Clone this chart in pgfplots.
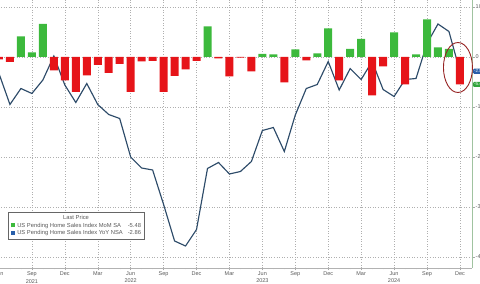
\documentclass[border=0pt]{standalone}
\usepackage{pgfplots}
\pgfplotsset{compat=1.18}
\usepackage{fontspec}
\setmainfont{Liberation Sans}
\definecolor{barg}{RGB}{60,185,60}
\definecolor{barr}{RGB}{230,20,25}
\definecolor{yoy}{RGB}{45,75,105}
\definecolor{gridc}{RGB}{175,175,175}
\definecolor{txt}{RGB}{90,90,90}
\definecolor{tagb}{RGB}{40,95,170}
\definecolor{tagg}{RGB}{50,165,60}
\definecolor{ell}{RGB}{150,35,35}
\definecolor{raxis}{RGB}{160,195,160}
\begin{document}
\begin{tikzpicture}[x=1pt,y=1pt]
\useasboundingbox (12,-16) rectangle (492,268);
\begin{axis}[
  at={(0,0)}, anchor=south west,
  scale only axis, width=484pt, height=268pt,
  xmin=-1, xmax=43.1, ymin=-42.2, ymax=11.4,
  axis x line*=bottom, axis y line*=right,
  x axis line style={draw=gray!60, line width=0.5pt},
  y axis line style={draw=raxis, line width=0.6pt},
  xtick={0,3,...,42},
  xticklabels={Jun,{Sep\\2021},Dec,Mar,{Jun\\2022},Sep,Dec,Mar,{Jun\\2023},Sep,Dec,Mar,{Jun\\2024},Sep,Dec},
  xticklabel style={align=center, font=\fontsize{5.5}{7.5}\selectfont, text=txt, inner sep=1pt},
  minor x tick num=2,
  ytick={-40,-30,...,10},
  yticklabel style={font=\fontsize{5.5}{6.5}\selectfont, text=txt, inner sep=1pt},
  tick align=outside, major tick length=2.5pt, minor tick length=1.5pt,
  tick style={draw=gray!70, line width=0.4pt},
  grid=major,
  major grid style={draw=gridc, line width=0.5pt, dash pattern=on 0.8pt off 1.8pt},
  /pgf/number format/assume math mode=true,
  clip=false,
]
% YoY NSA line
\addplot[yoy, line width=1.15pt, mark=none] coordinates {
(0,-3.3) (1,-9.5) (2,-6.3) (3,-7.3) (4,-4.6) (5,0.2) (6,-5.6) (7,-9.1) (8,-5.3) (9,-9.5)
(10,-11.5) (11,-12.3) (12,-20.0) (13,-22.2) (14,-22.6) (15,-29.5) (16,-36.8) (17,-37.8) (18,-34.5) (19,-22.3)
(20,-21.1) (21,-23.4) (22,-22.9) (23,-20.9) (24,-14.7) (25,-14.1) (26,-18.9) (27,-11.6) (28,-6.3) (29,-5.5)
(30,-0.9) (31,-6.6) (32,-2.3) (33,-4.5) (34,-0.9) (35,-6.5) (36,-7.9) (37,-4.5) (38,-4.3) (39,2.7)
(40,6.6) (41,5.1) (42,-2.86)
};
% MoM SA bars: positive (green)
\addplot[ybar, bar width=8pt, bar shift=0pt, fill=barg, draw=none] coordinates {
(2,4.1) (3,0.9) (4,6.6) (19,6.1) (24,0.6) (25,0.5) (27,1.5) (29,0.7) (30,5.7) (32,1.6)
(33,3.6) (36,4.9) (38,0.5) (39,7.5) (40,1.9) (41,1.6)
};
% MoM SA bars: negative (red)
\addplot[ybar, bar width=8pt, bar shift=0pt, fill=barr, draw=none] coordinates {
(0,-0.5) (1,-1.0) (5,-2.7) (6,-4.7) (7,-7.0) (8,-3.7) (9,-1.6) (10,-3.2) (11,-1.4) (12,-7.0)
(13,-0.9) (14,-0.8) (15,-7.0) (16,-3.8) (17,-2.5) (18,-0.8) (20,-0.3) (21,-3.9) (22,-0.15) (23,-2.9)
(26,-5.1) (28,-0.7) (31,-4.7) (34,-7.7) (35,-1.9) (37,-5.5) (42,-5.48)
};
\draw[ell, line width=0.9pt] (axis cs:41.82,-2.1) ellipse [x radius=14.5pt, y radius=25pt];
\node[fill=tagb, text=white, anchor=west, inner sep=1pt, rounded corners=1pt, font=\fontsize{4.5}{5}\selectfont] at ([xshift=1pt]axis cs:43.1,-2.86) {-2.86};
\node[fill=tagg, text=white, anchor=west, inner sep=1pt, rounded corners=1pt, font=\fontsize{4.5}{5}\selectfont] at ([xshift=1pt]axis cs:43.1,-5.48) {-5.48};
\end{axis}
\node[draw=gray!80!black, line width=0.4pt, fill=white, anchor=north west, inner xsep=2.8pt, inner ysep=2.2pt,
      font=\fontsize{5.8}{7.6}\selectfont, text=txt] at (20,56) {%
\begin{tabular}{@{}l@{\hspace{2pt}}l@{\hspace{5pt}}r@{}}
\multicolumn{3}{c}{Last Price}\\
\textcolor{barg}{\rule{4.3pt}{4.3pt}} & US Pending Home Sales Index MoM SA & -5.48\\
\textcolor{tagb}{\rule{4.3pt}{4.3pt}} & US Pending Home Sales Index YoY NSA & -2.86
\end{tabular}};
\end{tikzpicture}
\end{document}
